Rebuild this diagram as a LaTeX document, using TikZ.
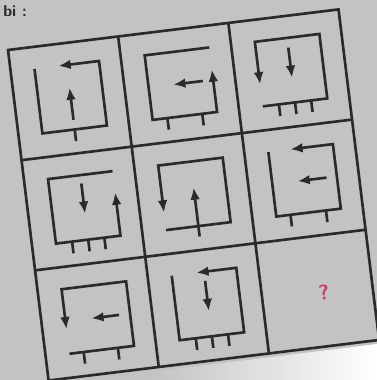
\documentclass[tikz,border=0pt]{standalone}
\usepackage{tikz}
\usetikzlibrary{arrows.meta}

\definecolor{paper}{HTML}{C4C2C2}
\definecolor{ink}{HTML}{2A2A2A}
\definecolor{qred}{HTML}{C23C66}

\begin{document}
\begin{tikzpicture}[x=0.02cm,y=0.02cm]
    \tikzset{gridline/.style = {draw=ink,line width=1.5pt,line join=miter}}
    \tikzset{figline/.style = {draw=ink,line width=1.5pt,line join=miter}}
    \tikzset{figarrow/.style = {figline,-{Latex[length=7pt,width=5.5pt]}}}

    % paper
    \useasboundingbox (0,0) rectangle (377,380);
    \fill[paper] (0,0) rectangle (377,380);
    \shade[left color=paper,right color=white] (150,0) -- (377,0) -- (377,36) -- (150,8) -- cycle;
    \node[anchor=base west,inner sep=0pt,text=ink,font=\sffamily\bfseries\fontsize{9}{9}\selectfont] (hint) at (3,364) {bi :};

    \begin{scope}[shift={(8,330)},rotate=7]
    % grid
    \draw[gridline] (0,0) rectangle (333,-333);
    \foreach \k in {111,222} {
        \draw[gridline] (\k,0) -- (\k,-333);
        \draw[gridline] (0,-\k) -- (333,-\k);
    }

    % row 1
    \begin{scope}[shift={(24,-87)},scale=65]
        \draw[figarrow] (0,1) -- (0,0) -- (1,0) -- (1,1) -- (0.37,1);
        \draw[figarrow] (0.5,0.15) -- (0.5,0.65);
        \draw[figline] (0.5,0) -- (0.5,-0.18);
    \end{scope}
    \begin{scope}[shift={(135,-87)},scale=65]
        \draw[figarrow] (1,1) -- (0,1) -- (0,0) -- (1,0) -- (1,0.66);
        \draw[figarrow] (0.84,0.5) -- (0.38,0.5);
        \foreach \p in {0.23,0.77} \draw[figline] (\p,0) -- (\p,-0.18);
    \end{scope}
    \begin{scope}[shift={(246,-87)},scale=65]
        \draw[figarrow] (0,0) -- (1,0) -- (1,1) -- (0,1) -- (0,0.34);
        \draw[figarrow] (0.5,0.85) -- (0.5,0.38);
        \foreach \p in {0.25,0.5,0.75} \draw[figline] (\p,0) -- (\p,-0.18);
    \end{scope}

    % row 2
    \begin{scope}[shift={(24,-198)},scale=65]
        \draw[figarrow] (1,1) -- (0,1) -- (0,0) -- (1,0) -- (1,0.67);
        \draw[figarrow] (0.5,0.87) -- (0.5,0.4);
        \foreach \p in {0.25,0.5,0.75} \draw[figline] (\p,0) -- (\p,-0.18);
    \end{scope}
    \begin{scope}[shift={(135,-198)},scale=65]
        \draw[figarrow] (0,0) -- (1,0) -- (1,1) -- (0,1) -- (0,0.27);
        \draw[figarrow] (0.5,-0.16) -- (0.5,0.6);
    \end{scope}
    \begin{scope}[shift={(246,-198)},scale=65]
        \draw[figarrow] (0,1) -- (0,0) -- (1,0) -- (1,1) -- (0.34,1);
        \draw[figarrow] (0.84,0.5) -- (0.39,0.5);
        \foreach \p in {0.22,0.77} \draw[figline] (\p,0) -- (\p,-0.18);
    \end{scope}

    % row 3
    \begin{scope}[shift={(24,-309)},scale=65]
        \draw[figarrow] (0,0) -- (1,0) -- (1,1) -- (0,1) -- (0,0.38);
        \draw[figarrow] (0.83,0.5) -- (0.4,0.5);
        \foreach \p in {0.22,0.75} \draw[figline] (\p,0) -- (\p,-0.18);
    \end{scope}
    \begin{scope}[shift={(135,-309)},scale=65]
        \draw[figarrow] (0,1) -- (0,0) -- (1,0) -- (1,1) -- (0.38,1);
        \draw[figarrow] (0.5,0.86) -- (0.5,0.39);
        \foreach \p in {0.25,0.5,0.75} \draw[figline] (\p,0) -- (\p,-0.18);
    \end{scope}
    \node[text=qred,font=\sffamily\bfseries\fontsize{12}{12}\selectfont,rotate=7] (qmark) at (284,-279) {?};
    \end{scope}
\end{tikzpicture}
\end{document}
